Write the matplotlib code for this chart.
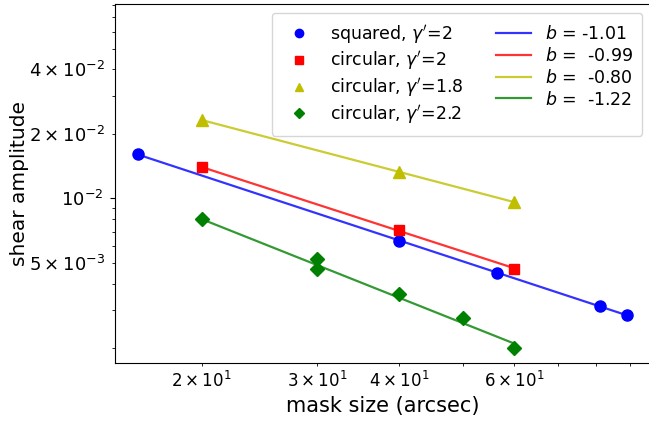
import matplotlib
matplotlib.use("Agg")
import matplotlib.pyplot as plt
from matplotlib.ticker import FixedLocator, FuncFormatter

# measured points
sq_x = [16, 40, 56.5, 81, 89]
sq_y = [1.61e-2, 6.3e-3, 4.47e-3, 3.14e-3, 2.87e-3]
c2_x = [20, 40, 60]
c2_y = [1.40e-2, 7.1e-3, 4.7e-3]
c18_x = [20, 40, 60]
c18_y = [2.32e-2, 1.33e-2, 9.6e-3]
c22_x = [20, 30, 30, 40, 50, 60]
c22_y = [8.0e-3, 5.2e-3, 4.7e-3, 3.57e-3, 2.78e-3, 2.0e-3]

# fitted power law lines (end points)
fit_sq_x = [16, 89]
fit_sq_y = [1.60e-2, 2.85e-3]
fit_c2_x = [20, 60]
fit_c2_y = [1.40e-2, 4.72e-3]
fit_c18_x = [20, 60]
fit_c18_y = [2.32e-2, 9.6e-3]
fit_c22_x = [20, 60]
fit_c22_y = [8.0e-3, 2.1e-3]

point_labels = ["squared, $\\gamma'$=2", "circular, $\\gamma'$=2",
                "circular, $\\gamma'$=1.8", "circular, $\\gamma'$=2.2"]
slope_labels = ["$b$ = -1.01", "$b$ =  -0.99", "$b$ =  -0.80", "$b$ =  -1.22"]

ylabel_ticks = {4e-2: r"$\mathdefault{4\times10^{-2}}$",
                2e-2: r"$\mathdefault{2\times10^{-2}}$",
                1e-2: r"$\mathdefault{10^{-2}}$",
                5e-3: r"$\mathdefault{5\times10^{-3}}$"}

fig = plt.figure(figsize=(6.49, 4.21), dpi=100)
ax = fig.add_axes([115/649, 1-363.3/421, 535/649, 359.3/421])

ms = 8
ax.plot(sq_x, sq_y, "bo", ms=ms, label=point_labels[0])
ax.plot(c2_x, c2_y, "rs", ms=ms-0.5, label=point_labels[1])
ax.plot(c18_x, c18_y, "y^", ms=ms, label=point_labels[2])
ax.plot(c22_x, c22_y, "gD", ms=ms-1, label=point_labels[3])
ax.plot(fit_sq_x, fit_sq_y, "b-", alpha=0.8, lw=1.6, label=slope_labels[0])
ax.plot(fit_c2_x, fit_c2_y, "r-", alpha=0.8, lw=1.6, label=slope_labels[1])
ax.plot(fit_c18_x, fit_c18_y, "y-", alpha=0.8, lw=1.6, label=slope_labels[2])
ax.plot(fit_c22_x, fit_c22_y, "g-", alpha=0.8, lw=1.6, label=slope_labels[3])

ax.set_xscale("log")
ax.set_yscale("log")
ax.set_xlim(14.75, 96.6)
ax.set_ylim(1.70e-3, 8.07e-2)

# y ticks: decade major, the rest minor; only some are labelled
ax.yaxis.set_major_locator(FixedLocator([1e-2]))
ax.yaxis.set_major_formatter(FuncFormatter(lambda v, p: ylabel_ticks.get(v, "")))
ymin = [k * 1e-3 for k in range(2, 10)] + [k * 1e-2 for k in range(2, 10)]
ax.yaxis.set_minor_locator(FixedLocator(ymin))
def yminor(v, p):
    for k in ylabel_ticks:
        if abs(v - k) / k < 1e-6:
            return ylabel_ticks[k]
    return ""
ax.yaxis.set_minor_formatter(FuncFormatter(yminor))

ax.set_xlabel("mask size (arcsec)", fontsize=15)
ax.set_ylabel("shear amplitude", fontsize=14.5, labelpad=0)
ax.tick_params(axis="x", which="both", labelsize=12)
ax.tick_params(axis="y", which="both", labelsize=13, pad=5)

ax.legend(ncol=2, loc="upper right", bbox_to_anchor=(642/649, 1-13/421),
          bbox_transform=fig.transFigure, borderaxespad=0, fontsize=12.5,
          markerscale=0.75, labelspacing=0.22, columnspacing=1.9,
          borderpad=0.55)

fig.savefig("out.png", dpi=100)
